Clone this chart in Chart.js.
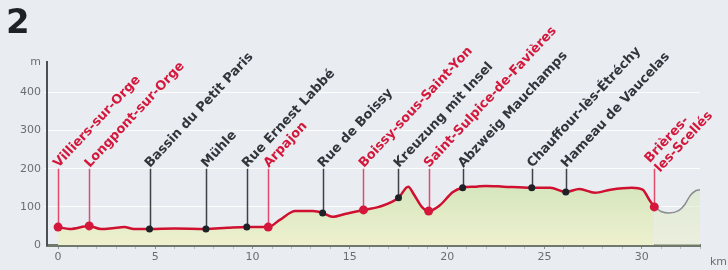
<!DOCTYPE html>
<html><head><meta charset="utf-8">
<script src="https://cdn.jsdelivr.net/npm/chart.js@4"></script>
<style>html,body{margin:0;padding:0;background:#e9edf2;}canvas{display:block}</style>
</head><body>
<canvas id="c" width="728" height="270"></canvas>
<script>
// ---- data ----
const profileKm   = [0, 0.6, 1.6, 2.2, 2.8, 3.4, 3.9, 4.7, 6.0, 7.6, 8.7, 9.7, 10.8, 11.4, 12.2, 13.1, 13.6, 14.1, 14.8, 15.7, 16.5, 17.5, 18.0, 18.3, 18.7, 19.05, 19.6, 20.3, 20.8, 21.5, 22.0, 22.9, 24.35, 25.3, 26.1, 26.8, 27.6, 28.4, 29.5, 30.05, 30.4, 30.65];
const profileElev = [47, 42, 50, 42, 44, 47, 42, 42, 43, 42, 45, 47, 47, 66, 89, 89, 84, 74, 82, 92, 100, 124, 153, 132, 100, 89, 103, 139, 150, 153, 155, 153, 150, 150, 139, 147, 137, 145, 150, 145, 118, 100];
const tailKm      = [30.65, 31.0, 31.4, 31.9, 32.2, 32.5, 32.8, 33.0];
const tailElev    = [100, 88, 84, 90, 105, 130, 143, 145];

const stopNames = ['Villiers-sur-Orge', 'Longpont-sur-Orge', 'Bassin du Petit Paris', 'Mühle', 'Rue Ernest Labbé', 'Arpajon', 'Rue de Boissy', 'Boissy-sous-Saint-Yon', 'Kreuzung mit Insel', 'Saint-Sulpice-de-Favières', 'Abzweig Mauchamps', 'Chauffour-lès-Étréchy', 'Hameau de Vaucelas', 'Brières-\nles-Scellés'];
const stopKm    = [0, 1.6, 4.7, 7.6, 9.7, 10.8, 13.6, 15.7, 17.5, 19.05, 20.8, 24.35, 26.1, 30.65];
const stopElev  = [47, 50, 42, 42, 47, 47, 84, 92, 124, 89, 150, 150, 139, 100];
const stopIsTown = [true, true, false, false, false, true, false, true, false, true, false, false, false, true];

const xTicks = [0,1,2,3,4,5,6,7,8,9,10,11,12,13,14,15,16,17,18,19,20,21,22,23,24,25,26,27,28,29,30,31,32,33];
const xLabelled = [0, 5, 10, 15, 20, 25, 30];
const yTicks = [0, 100, 200, 300, 400, 480];
const yTickLabels = ['0', '100', '200', '300', '400', 'm'];
const chartNumber = '2';
const distUnit = 'km';

// ---- styles ----
const RED = '#d3183c', DARK = '#30363c';
const LINE_TOP = 200;
const LABEL_ANGLE = -47 * Math.PI / 180;
const FONT = '"DejaVu Sans", Verdana, sans-serif';

const toXY = (xs, ys) => xs.map((v, i) => ({x: v, y: ys[i]}));

function fillGrad(ctx, chart, a) {
  const area = chart.chartArea;
  if (!area) return 'rgba(220,232,195,1)';
  const ys = chart.scales.y;
  const g = ctx.createLinearGradient(0, ys.getPixelForValue(160), 0, ys.getPixelForValue(0));
  g.addColorStop(0, `rgba(212,230,190,${a})`);
  g.addColorStop(1, `rgba(238,240,206,${a})`);
  return g;
}

const overlay = {
  id: 'overlay',
  beforeDatasetsDraw(chart) {
    const {ctx, scales: {x, y}} = chart;
    const top = y.getPixelForValue(LINE_TOP);
    ctx.save();
    stopKm.forEach((km, i) => {
      const px = Math.round(x.getPixelForValue(km)) + 0.5;
      ctx.strokeStyle = stopIsTown[i] ? '#e24a6c' : '#3c4248';
      ctx.lineWidth = 1.5;
      ctx.beginPath();
      ctx.moveTo(px, y.getPixelForValue(stopElev[i]));
      ctx.lineTo(px, top);
      ctx.stroke();
    });
    ctx.restore();
  },
  afterDraw(chart) {
    const {ctx, scales: {x, y}} = chart;
    const top = y.getPixelForValue(LINE_TOP);
    ctx.save();
    ctx.font = 'bold 13px ' + FONT;
    ctx.textAlign = 'left';
    ctx.textBaseline = 'middle';
    stopKm.forEach((km, i) => {
      const px = x.getPixelForValue(km);
      ctx.save();
      ctx.translate(px - 2, top - 3);
      ctx.rotate(LABEL_ANGLE);
      ctx.fillStyle = stopIsTown[i] ? RED : DARK;
      const lines = stopNames[i].split('\n');
      if (lines.length === 1) ctx.fillText(lines[0], 0, 0);
      else { ctx.fillText(lines[0], 0, -7); ctx.fillText(lines[1], 0, 7); }
      ctx.restore();
    });
    // chart number
    ctx.fillStyle = '#1e2226';
    ctx.font = 'bold 34px ' + FONT;
    ctx.textBaseline = 'alphabetic';
    ctx.fillText(chartNumber, 6, 33);
    // unit
    ctx.fillStyle = '#6a6e72';
    ctx.font = '11px ' + FONT;
    ctx.textBaseline = 'middle';
    ctx.fillText(distUnit, x.right + 10, 262);
    ctx.restore();
  }
};

new Chart(document.getElementById('c'), {
  type: 'line',
  data: {
    datasets: [
      { data: toXY(stopKm, stopElev).filter((p, i) => stopIsTown[i]), showLine: false, pointRadius: 4.5, pointBackgroundColor: RED, pointBorderWidth: 0, order: 0 },
      { data: toXY(stopKm, stopElev).filter((p, i) => !stopIsTown[i]), showLine: false, pointRadius: 3.5, pointBackgroundColor: '#1e2226', pointBorderWidth: 0, order: 0 },
      { data: toXY(profileKm, profileElev), borderColor: '#cf1030', borderWidth: 2.5, pointRadius: 0, cubicInterpolationMode: 'monotone', fill: 'origin', backgroundColor: c => fillGrad(c.chart.ctx, c.chart, 1), order: 1 },
      { data: toXY(tailKm, tailElev), borderColor: '#8a8e8e', borderWidth: 1.5, pointRadius: 0, cubicInterpolationMode: 'monotone', fill: 'origin', backgroundColor: c => fillGrad(c.chart.ctx, c.chart, 0.55), order: 2 }
    ]
  },
  options: {
    responsive: false, animation: false, devicePixelRatio: 1,
    layout: { padding: { top: 62, right: 28, left: 0, bottom: 0 } },
    plugins: { legend: { display: false }, tooltip: { enabled: false } },
    scales: {
      x: {
        type: 'linear', min: -0.57, max: 33,
        afterBuildTicks: s => { s.ticks = xTicks.map(v => ({value: v})); },
        afterFit: s => { s.height = 25; },
        border: { display: true, color: '#6e786c', width: 3 },
        grid: { drawOnChartArea: false, drawTicks: true, tickLength: 4, color: c => xLabelled.includes(c.tick && c.tick.value) ? '#8a8e90' : '#b8bcc0' },
        ticks: { autoSkip: false, maxRotation: 0, padding: 2, color: '#6a6e72', font: { family: FONT, size: 11 },
          callback: v => xLabelled.includes(v) ? String(v) : '' }
      },
      y: {
        type: 'linear', min: 0, max: 480,
        afterBuildTicks: s => { s.ticks = yTicks.map(v => ({value: v})); },
        afterFit: s => { s.width = 47; },
        border: { display: true, color: '#4a5056', width: 2 },
        grid: { drawOnChartArea: true, drawTicks: true, tickLength: 3, color: c => (c.tick && c.tick.value > 0 && c.tick.value < 480) ? 'rgba(255,255,255,0.85)' : 'rgba(0,0,0,0)' },
        ticks: { padding: 3, color: '#6a6e72', font: { family: FONT, size: 11 },
          callback: (v, i) => yTickLabels[yTicks.indexOf(v)] }
      }
    }
  },
  plugins: [overlay]
});
</script>
</body></html>
